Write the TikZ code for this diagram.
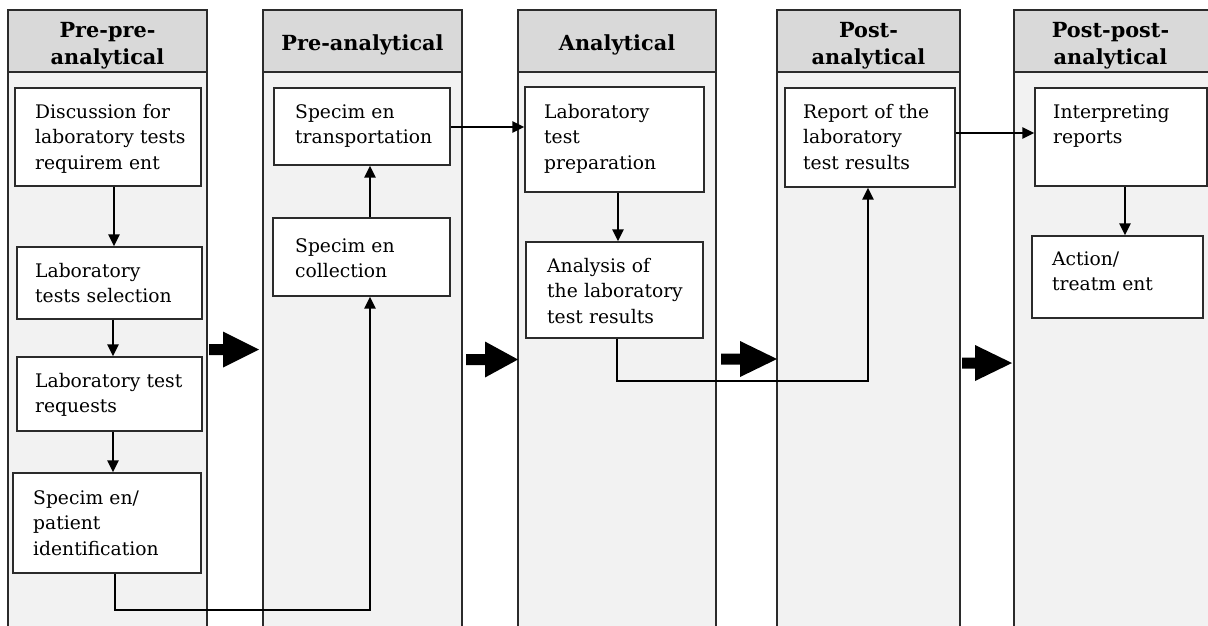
\documentclass[tikz,border=0pt]{standalone}
\usepackage{fontspec}
\setmainfont{DejaVu Serif}
\usetikzlibrary{arrows.meta,fit}
\definecolor{hdr}{HTML}{D9D9D9}
\definecolor{colfill}{HTML}{F2F2F2}
\definecolor{edge}{HTML}{2B2B2B}
\newcommand\blockarr[4]{\fill (#1,#4-5.5) -- (#2,#4-5.5) -- (#2,#4-18) -- (#3,#4) -- (#2,#4+18) -- (#2,#4+5.5) -- (#1,#4+5.5) -- cycle;}
\begin{document}
\begin{tikzpicture}[x=1pt,y=-1pt,
  colbody/.style={fill=colfill, draw=edge, line width=1.5pt},
  colhead/.style={fill=hdr, draw=edge, line width=1.5pt},
  stepbox/.style={draw=edge, fill=white, line width=1.4pt, inner sep=0pt},
  boxtext/.style={anchor=base west, inner sep=0pt, text width=190pt, align=left, font=\fontsize{18.7}{25.5}\selectfont},
  headtext/.style={anchor=base, inner sep=0pt, text width=190pt, align=center, font=\fontsize{20.8}{27}\selectfont\bfseries},
  arr/.style={line width=2.7pt, -{Triangle[length=12pt,width=11pt]}},
]
\useasboundingbox (0,0) rectangle (1208,625);
\fill[white] (0,0) rectangle (1208,625);

% columns
\foreach \xl/\xr in {8/207, 263/462, 518/716, 777/960, 1014/1230} {
  \draw[colbody] (\xl,72) rectangle (\xr,640);
  \draw[colhead] (\xl,10) rectangle (\xr,72);
}

% headers
\node[headtext] (hd1) at (107.5,37) {Pre-pre-\\analytical};
\node[headtext] (hd2) at (362.5,50) {Pre-analytical};
\node[headtext] (hd3) at (617,50) {Analytical};
\node[headtext] (hd4) at (868.5,37) {Post-\\analytical};
\node[headtext] (hd5) at (1110.5,37) {Post-post-\\analytical};

% boxes
\node[stepbox, fit={(15,88) (201,186)}] (b1) {};
\node[stepbox, fit={(17,247) (202,319)}] (b2) {};
\node[stepbox, fit={(17,357) (202,431)}] (b3) {};
\node[stepbox, fit={(13,473) (201,573)}] (b4) {};
\node[stepbox, fit={(274,88) (450,165)}] (b5) {};
\node[stepbox, fit={(273,218) (450,296)}] (b6) {};
\node[stepbox, fit={(525,87) (704,192)}] (b7) {};
\node[stepbox, fit={(526,242) (703,338)}] (b8) {};
\node[stepbox, fit={(785,88) (955,187)}] (b9) {};
\node[stepbox, fit={(1035,88) (1207,186)}] (b10) {};
\node[stepbox, fit={(1032,236) (1203,318)}] (b11) {};

% box texts
\node[boxtext] (t1) at (35,118) {Discussion for\\laboratory tests\\requirem ent};
\node[boxtext] (t2) at (35,277) {Laboratory\\tests selection};
\node[boxtext] (t3) at (35,387) {Laboratory test\\requests};
\node[boxtext] (t4) at (33,504) {Specim en/\\patient\\identification};
\node[boxtext] (t5) at (295,118) {Specim en\\transportation};
\node[boxtext] (t6) at (295,252) {Specim en\\collection};
\node[boxtext] (t7) at (544,118) {Laboratory\\test\\preparation};
\node[boxtext] (t8) at (547,272) {Analysis of\\the laboratory\\test results};
\node[boxtext] (t9) at (803,118) {Report of the\\laboratory\\test results};
\node[boxtext] (t10) at (1053,118) {Interpreting\\reports};
\node[boxtext] (t11) at (1052,265) {Action/\\treatm ent};

% connectors
\coordinate (v1) at (114,0);
\coordinate (v2) at (113,0);
\draw[arr] (b1.south -| v1) -- (b2.north -| v1);
\draw[arr] (b2.south -| v2) -- (b3.north -| v2);
\draw[arr] (b3.south -| v2) -- (b4.north -| v2);
\coordinate (k1) at (115,610);
\coordinate (k2) at (370,610);
\draw[arr] (b4.south -| k1) -- (k1) -- (k2) -- (b6.south -| k2);
\draw[arr] (b6.north -| k2) -- (b5.south -| k2);
\coordinate (h1) at (0,127);
\draw[arr] (b5.east |- h1) -- (b7.west |- h1);
\coordinate (v3) at (618,0);
\draw[arr] (b7.south -| v3) -- (b8.north -| v3);
\coordinate (k3) at (617,381);
\coordinate (k4) at (868,381);
\draw[arr] (b8.south -| k3) -- (k3) -- (k4) -- (b9.south -| k4);
\coordinate (h2) at (0,133);
\draw[arr] (b9.east |- h2) -- (b10.west |- h2);
\coordinate (v4) at (1125,0);
\draw[arr] (b10.south -| v4) -- (b11.north -| v4);

% big block arrows between phases
\blockarr{209}{223}{259}{349.5}
\blockarr{466}{485}{518}{359.5}
\blockarr{721}{740}{777}{359}
\blockarr{962}{975}{1012}{363}
\end{tikzpicture}
\end{document}
